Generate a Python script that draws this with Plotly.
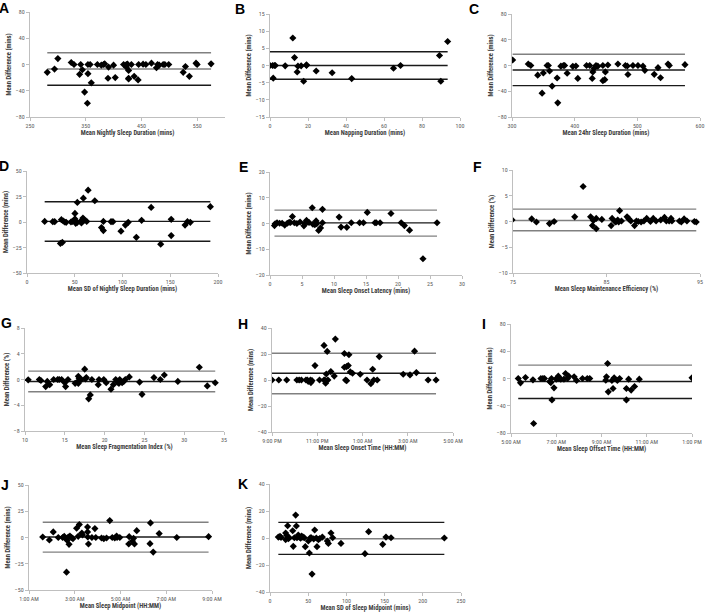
import plotly.graph_objects as go

# ---- data (x = mean of methods, y = mean difference) ----
a_x = [281, 294, 300, 324, 329, 341, 339, 344, 348, 353, 354, 358, 354, 360, 371, 378, 382, 384, 390, 391,
       400, 403, 418, 423, 423, 425, 427, 427, 427, 432, 437, 444, 445, 453, 458, 468, 477, 479, 482, 489,
       492, 499, 525, 529, 536, 548, 550, 575]
a_y = [-12, -7, 9, 3, 0, 0, -15, -8, -42, -59, 0, 0, -14, -28, 0, -1, 0, 1, -21, -4,
       -1, -20, 0, 0, -4, 0.5, -9, -21, -22, 0, -18, -23.5, 0, 0.5, 0, 2, -5, 0, -1, 0,
       0, 0, -12, -3, -18, 2, 0, 1]
a_lines = [18, -6.8, -31.6]

b_x = [0, 1.4, 2.3, 2.8, 1.7, 8, 12, 12.9, 14.3, 14.7, 16.4, 17.7, 19.2, 19.2, 24.3, 32.7, 43, 65, 68.7,
       89.2, 89.9, 93.5]
b_y = [0, 0, 0, 0, -3.7, -0.1, 8.0, 2.3, -1.9, -0.2, -0.1, -4.6, 0, 0.2, -1.6, -2.1, -3.8, -0.8, 0,
       2.9, -4.6, 7.0]
b_lines = [4.0, 0, -4.0]

c_x = [301, 326, 330, 341, 350, 348, 356, 358, 360, 364, 372, 373, 378, 382, 384, 388, 397, 402, 405, 419,
       424, 428, 429, 431, 434, 437, 445, 445, 448, 449, 453, 469, 481, 484, 485, 493, 501, 509, 512, 527,
       533, 537, 549, 551, 576]
c_y = [8.5, 2.3, 0, -15, -11.7, -43, 0, 0, -8.5, -32, -19.4, -58, -1, 0, 0, -12, -1.3, -0.8, -20, 0,
       0, -20, -10, -4.4, 0, -1, 0, -23.6, -22, -10, 0.8, 2.3, 0, -0.8, -14, 0, 0, -1, -7.5, -13.7,
       -3.4, -19, 2.3, 0, 1.3]
c_lines = [17.4, -7, -31.3]

d_x = [18.5, 27, 29, 35, 37, 36, 38, 39.5, 41, 46, 47.5, 49.6, 50.2, 50.2, 51, 52.7, 52.4, 56, 57, 58.6,
       59, 60, 62.5, 64, 71, 78, 80, 80, 88, 90, 98.4, 103, 106, 120, 114.5, 130, 140, 151, 151, 165.5,
       168, 171, 192]
d_y = [0.6, 0.3, 0.3, -21, -20, 2.3, 1, 0, -0.3, 0, 0.6, 1.3, 8.4, 3, -1.3, 19.2, -0.6, 0.6, -1, 3.9,
       23.4, 2, 0.6, 31.2, 20.8, -5.5, -8.4, 0.6, 0.3, 0.3, -9, -3, -0.3, 1.6, -15, 14.3, -21.7, 2.6, -13.3, -3,
       0.3, -0.3, 15]
d_lines = [19.8, 0.6, -18.8]

e_x = [0.7, 0.8, 1.1, 1.5, 1.9, 2.3, 2.7, 3.0, 3.2, 3.5, 3.8, 4.2, 4.7, 5.3, 5.4, 5.7, 5.9, 6.1, 6.6, 6.7,
       7.0, 7.2, 7.3, 7.6, 7.9, 8.2, 8.2, 10.8, 11.1, 12.0, 12.7, 14.0, 14.6, 15.2, 16.4, 16.6, 17.2, 18.9,
       20.5, 21.0, 21.8, 23.9, 26.1]
e_y = [-0.8, -0.1, 0.3, 0.1, 0.1, -0.6, 0.1, 0.5, 0.4, 2.7, 0.3, 0, 0.6, -0.9, 0, 1.2, 0.6, 0.4, 6.1, -0.3,
       -0.5, 1.0, -0.1, -2.7, -1.7, 5.5, 0.3, 2.5, -1.4, -1.5, 0.3, 0.3, 0.3, 4.3, 0.3, 0.3, 0.3, 3.9,
       0.3, -0.8, -2.6, -13.7, 0.3]
e_lines = [5.2, 0.26, -4.9]

f_x = [74.9, 77.0, 77.5, 78.9, 79.4, 81.6, 82.5, 83.3, 83.5, 83.6, 83.9, 83.9, 84.5, 85.5, 85.6, 85.9, 86.0,
       86.2, 86.3, 86.4, 86.6, 87.2, 87.4, 87.6, 88.0, 88.2, 88.4, 88.7, 89.0, 89.3, 89.7, 90.0, 90.3, 90.8,
       91.2, 91.4, 91.7, 91.9, 92.0, 92.8, 93.0, 93.3, 93.6, 94.4, 94.6]
f_y = [0.3, 0.5, -0.1, -0.4, 0, 0.9, 6.8, 0.9, -0.8, 0.2, 0.6, -1.4, 0.4, -0.8, 0.6, 0, -0.1,
       0.3, -0.1, 2.1, 0.1, 0.9, 0.5, 0.1, -0.8, 0.1, 0, -0.1, 0.1, 0.6, 0, 0.6, 0.1, 0.3,
       0.8, 0.1, 0.1, 0.6, 0.1, 0.1, -0.1, 0.5, 0.1, 0, -0.1]
f_lines = [2.4, 0.2, -1.8]

g_x = [10.4, 11.8, 12.0, 12.6, 12.8, 13.1, 13.6, 14.1, 14.3, 14.6, 15.0, 15.1, 15.4, 16.3, 16.6, 16.7, 16.7,
       16.8, 17.1, 17.5, 17.6, 17.7, 18.0, 18.2, 18.4, 19.3, 19.2, 19.9, 20.2, 20.8, 21.1, 21.4, 21.6, 21.8,
       21.9, 22.2, 22.4, 22.6, 23.1, 24.4, 24.7, 26.2, 27.0, 27.5, 29.2, 31.9, 32.9, 33.9]
g_y = [-0.05, 0, -0.15, -1.1, -0.3, -0.8, 0, 0, 0, 0, -0.5, -1.1, 0, -0.6, -0.35, 0.5, -0.6,
       0.2, 0, 1.6, 0.1, 0.3, -3.0, -2.4, 0, 0, -0.8, 0, -0.5, -1.5, -0.8, 0, -0.4, -0.6,
       0, -0.5, -0.3, 0, 0.4, -0.4, -2.3, 0.3, 0, 0.7, -0.3, 1.9, -1.0, -0.5]
g_lines = [1.3, -0.3, -1.9]

# sleep onset time in hours (24+ = after midnight)
h_x = [21.0, 21.3, 21.65, 22.1, 22.2, 22.3, 22.5, 22.56, 22.6, 22.7, 22.72, 22.77, 22.9, 23.1, 23.3, 23.3,
       23.34, 23.37, 23.4, 23.44, 23.47, 23.6, 23.75, 23.8, 24.2, 24.2, 24.25, 24.3, 24.3, 24.37, 24.4, 24.46,
       24.56, 24.9, 25.2, 25.37, 25.45, 25.5, 25.65, 25.74, 26.8, 27.1, 27.3, 27.38, 27.9, 28.25]
h_y = [0, 0, 0, 0, 0, 0, 0, 0, -1, 0, -2, -0.5, 11.1, 0, 0, 26.6,
       0, -2.5, 4.6, 22, 0, 6.5, 3, 31.5, 20.4, 9.8, 0, -0.5, 10.3, 11.1, 19.4, 6.2,
       5.2, 4.4, 0, -2.8, 8.3, 0, 0, 18, 4.4, 3.9, 22.2, 5.7, 0, 0]
h_lines = [20.6, 5.2, -10.6]
h_ticks = [21, 23, 25, 27, 29]
h_labels = ["9:00 PM", "11:00 PM", "1:00 AM", "3:00 AM", "5:00 AM"]

i_x = [5.32, 5.42, 5.64, 5.97, 6.0, 6.32, 6.41, 6.48, 6.71, 6.76, 6.79, 6.81, 6.9, 7.0, 7.05, 7.09, 7.12,
       7.2, 7.34, 7.41, 7.5, 7.55, 7.79, 7.9, 8.16, 8.37, 8.48, 9.19, 9.22, 9.27, 9.3, 9.46, 9.51, 9.56,
       9.7, 9.8, 10.1, 10.1, 10.2, 10.31, 10.46, 10.67, 13.0]
i_y = [0, -6.4, 1.5, -2, -66, 0, 0, 0, -4.4, -6, 0, -31.4, -13.7, -1, 1, 3.4, 0,
       -1, -1, 7.4, 0, 3.4, 2.5, -3, 0, 0, 0, -2.5, 2.5, 22, -19.6, -3, -14.7, 1,
       -3, 0, -31.4, -14.7, -1, -17, -11.8, -1, 1]
i_lines = [19.6, -4.4, -29.4]
i_ticks = [5, 7, 9, 11, 13]
i_labels = ["5:00 AM", "7:00 AM", "9:00 AM", "11:00 AM", "1:00 PM"]

j_x = [1.6, 1.89, 2.06, 2.28, 2.47, 2.54, 2.61, 2.67, 2.64, 2.72, 2.75, 2.79, 2.86, 2.92, 3.08, 3.15, 3.2,
       3.31, 3.34, 3.56, 3.56, 3.6, 3.57, 3.75, 3.88, 3.92, 4.17, 4.27, 4.39, 4.53, 4.64, 4.75, 4.83, 4.85,
       4.97, 5.36, 5.38, 5.52, 5.57, 5.61, 5.71, 6.29, 6.31, 6.43, 6.69, 7.46, 8.85]
j_y = [0.5, -2.4, 5.3, 0, 0, 1.1, -1.1, -2.7, -33, 0.5, -6.5, 1.4, 0, -1.1, 8.8, 1.1, 12.3,
       4.3, 2.4, 10, 5.3, -6.2, 0.5, 0, 8.5, 0, -0.5, -1.1, -0.5, 16.1, 0, -0.5, 1.4, 0,
       0, -6.2, 0.8, -3.4, -0.8, -6.2, 6.5, -5.9, 13.9, -13.9, 3.7, 0, 0.8]
j_lines = [14.5, 0.5, -13.9]
j_ticks = [1, 3, 5, 7, 9]
j_labels = ["1:00 AM", "3:00 AM", "5:00 AM", "7:00 AM", "9:00 AM"]

k_x = [10.9, 13.1, 14.4, 20.5, 21.8, 20.5, 23.1, 24, 25.3, 29.7, 30.5, 31.9, 33.6, 34.5, 35.3, 37, 38.4,
       40.1, 41.4, 43.2, 44.9, 46.2, 50.2, 51.5, 52.8, 54.1, 55, 57.2, 58.5, 60.6, 61.5, 63.3, 65, 68.5,
       75, 76.4, 79.8, 82, 92.9, 124.3, 129.1, 147.5, 151.8, 158.4, 228.2]
k_y = [0.7, 1.2, 0.5, 3.7, 2, -1.2, 9.1, -0.5, 0.2, 5.4, -6.2, 0.2, 17, 8.9, 0.2, 2.2, 0.7,
       -0.2, 1.5, 0.7, 0.2, -6.4, -2.2, -11.1, 0.2, 0.2, -26.7, -0.7, 5.9, 0, -6.4, -1.2, -0.5, 0.7,
       -2.2, -4, 3.7, 0.2, -4, -11.6, 4.7, -4.7, 0.7, 0.2, 0]
k_lines = [11.6, -0.5, -12.1]

W, H = 707, 615
GRAY, BLACK = "#808080", "#1a1a1a"
FONT = "Liberation Sans Narrow, Arial Narrow, Roboto Condensed, Liberation Sans, Arial"

# letter, x, y, lines, x title, y title, x range, y range, y dtick, x dtick,
# plot box px (l, r, t, b), letter centre px, line colors, time ticks
panels = [
    ("A", a_x, a_y, a_lines, "Mean Nightly Sleep Duration (mins)", "Mean Difference (mins)",
     [250, 600], [-80, 80], 40, 100, (30, 225, 12, 117), (4, 7), [GRAY, GRAY, BLACK], None),
    ("B", b_x, b_y, b_lines, "Mean Napping Duration (mins)", "Mean Difference (mins)",
     [0, 100], [-15, 15], 5, 20, (270, 460, 14, 117), (240, 8), [BLACK, BLACK, BLACK], None),
    ("C", c_x, c_y, c_lines, "Mean 24hr Sleep Duration (mins)", "Mean Difference (mins)",
     [300, 600], [-80, 80], 40, 100, (512, 700, 14, 117), (474, 8), [GRAY, BLACK, BLACK], None),
    ("D", d_x, d_y, d_lines, "Mean SD of Nightly Sleep Duration (mins)", "Mean Difference (mins)",
     [0, 200], [-50, 50], 25, 50, (27, 218, 171, 273), (4, 165), [BLACK, BLACK, BLACK], None),
    ("E", e_x, e_y, e_lines, "Mean Sleep Onset Latency (mins)", "Mean Difference (mins)",
     [0, 30], [-20, 20], 10, 5, (270, 462, 172, 275), (243, 166), [GRAY, BLACK, GRAY], None),
    ("F", f_x, f_y, f_lines, "Mean Sleep Maintenance Efficiency (%)", "Mean Difference (%)",
     [75, 95], [-10, 10], 5, 10, (513, 700, 170, 273), (477, 166), [GRAY, GRAY, GRAY], None),
    ("G", g_x, g_y, g_lines, "Mean Sleep Fragmentation Index (%)", "Mean Difference (%)",
     [10, 35], [-8, 8], 4, 5, (25, 224, 328, 431), (6, 322), [GRAY, BLACK, GRAY], None),
    ("H", h_x, h_y, h_lines, "Mean Sleep Onset Time (HH:MM)", "Mean Difference (mins)",
     [21, 29], [-40, 40], 20, None, (272, 453, 328, 432), (243, 323), [GRAY, BLACK, GRAY],
     (h_ticks, h_labels)),
    ("I", i_x, i_y, i_lines, "Mean Sleep Offset Time (HH:MM)", "Mean Difference (mins)",
     [5, 13], [-80, 80], 40, None, (511, 692, 324, 433), (484, 323), [GRAY, BLACK, BLACK],
     (i_ticks, i_labels)),
    ("J", j_x, j_y, j_lines, "Mean Sleep Midpoint (HH:MM)", "Mean Difference (mins)",
     [1, 9], [-50, 50], 25, None, (29, 212, 485, 590), (5, 484), [GRAY, BLACK, GRAY],
     (j_ticks, j_labels)),
    ("K", k_x, k_y, k_lines, "Mean SD of Sleep Midpoint (mins)", "Mean Difference (mins)",
     [0, 250], [-40, 40], 20, 50, (270, 461, 484, 592), (243, 483), [BLACK, GRAY, BLACK], None),
]

fig = go.Figure()
annotations = []

for n, (letter, xs, ys, lines, xt, yt, xr, yr, ydt, xdt, box, lpos, lcols, ticks) in enumerate(panels, start=1):
    sfx = "" if n == 1 else str(n)
    l, r, t, b = box
    # mean bias and limits of agreement
    for val, col in zip(lines, lcols):
        fig.add_trace(go.Scatter(x=[min(xs), max(xs)], y=[val, val], mode="lines",
                                 line=dict(color=col, width=1.4), xaxis="x" + sfx, yaxis="y" + sfx,
                                 showlegend=False, hoverinfo="skip"))
    fig.add_trace(go.Scatter(x=xs, y=ys, mode="markers",
                             marker=dict(symbol="diamond", size=5.5, color="black"),
                             xaxis="x" + sfx, yaxis="y" + sfx, showlegend=False))

    xa = dict(domain=[l / W, r / W], range=xr, anchor="y" + sfx, showgrid=False, zeroline=False,
              automargin=False, showline=True, linecolor="#bfbfbf", linewidth=1, ticks="outside",
              ticklen=3, tickcolor="#bfbfbf", tickfont=dict(size=6, color="#595959", family=FONT),
              title=dict(text=xt, font=dict(size=6.6, color="#404040", family=FONT, weight="bold"),
                         standoff=2))
    if ticks:
        xa.update(tickmode="array", tickvals=ticks[0], ticktext=ticks[1])
    else:
        xa.update(tick0=xr[0], dtick=xdt)
    ya = dict(domain=[1 - b / H, 1 - t / H], range=yr, anchor="x" + sfx, showgrid=False, zeroline=False,
              automargin=False, showline=True, linecolor="#bfbfbf", linewidth=1, ticks="outside",
              ticklen=3, tickcolor="#bfbfbf", tick0=yr[0], dtick=ydt,
              tickfont=dict(size=6, color="#595959", family=FONT),
              title=dict(text=yt, font=dict(size=6.6, color="#404040", family=FONT, weight="bold"),
                         standoff=3))
    fig.layout["xaxis" + sfx] = xa
    fig.layout["yaxis" + sfx] = ya

    annotations.append(dict(text=letter, x=lpos[0] / W, y=1 - (lpos[1] + 1) / H, xref="paper",
                            yref="paper", xanchor="center", yanchor="middle", showarrow=False,
                            font=dict(size=14, color="black", family="Liberation Sans, Arial",
                                      weight="bold")))

fig.update_layout(width=W, height=H, margin=dict(l=0, r=0, t=0, b=0, autoexpand=False),
                  paper_bgcolor="white", plot_bgcolor="white", annotations=annotations,
                  font=dict(family=FONT))

fig.write_html("out.html", config={"displayModeBar": False},
               post_script="document.body.style.margin='0px';")
